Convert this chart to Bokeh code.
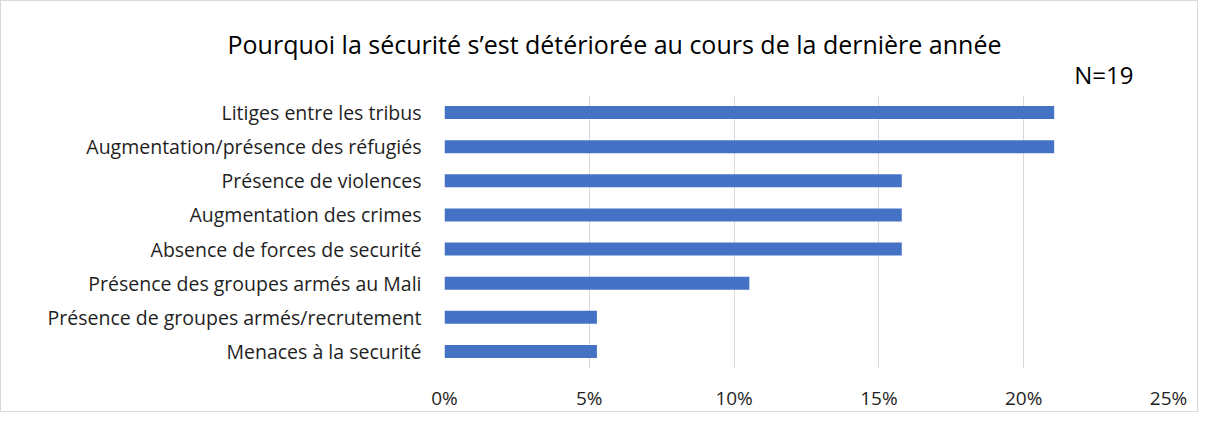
from bokeh.plotting import figure
from bokeh.models import FactorRange, Range1d, Title, FixedTicker, CustomJSTickFormatter
from bokeh.embed import file_html
from bokeh.resources import INLINE

categories = [
    "Litiges entre les tribus",
    "Augmentation/présence des réfugiés",
    "Présence de violences",
    "Augmentation des crimes",
    "Absence de forces de securité",
    "Présence des groupes armés au Mali",
    "Présence de groupes armés/recrutement",
    "Menaces à la securité",
]
values = [4 / 19, 4 / 19, 3 / 19, 3 / 19, 3 / 19, 2 / 19, 1 / 19, 1 / 19]
x_ticks = [0, 0.05, 0.10, 0.15, 0.20, 0.25]
title_text = "Pourquoi la sécurité s\u2019est détériorée au cours de la dernière année"
n_text = "N=19"

FONT = "Open Sans"
TXT = "#1f1f1f"

p = figure(
    width=1198, height=412,
    y_range=FactorRange(factors=list(reversed(categories)), range_padding=0),
    x_range=Range1d(0, 0.25),
    output_backend="svg", toolbar_location=None,
    min_border_left=443, min_border_right=31, min_border_top=94, min_border_bottom=42,
)
p.hbar(y=categories, right=values, height=0.38, left=0, color="#4472C4", line_color=None)

p.outline_line_color = None
p.background_fill_color = "white"
p.border_fill_color = "white"
p.styles = {"border": "1px solid #D9D9D9", "box-sizing": "border-box"}

p.xgrid.grid_line_color = "#D9D9D9"
p.xgrid.grid_line_width = 1
p.ygrid.grid_line_color = None

p.xaxis.ticker = FixedTicker(ticks=x_ticks)
p.xaxis.formatter = CustomJSTickFormatter(code="return Math.round(tick*100) + '%';")
p.xaxis.axis_line_color = None
p.xaxis.major_tick_line_color = None
p.xaxis.minor_tick_line_color = None
p.xaxis.major_label_text_font = FONT
p.xaxis.major_label_text_font_size = "19px"
p.xaxis.major_label_text_color = TXT
p.xaxis.major_label_standoff = 10

p.yaxis.axis_line_color = None
p.yaxis.major_tick_line_color = None
p.yaxis.minor_tick_line_color = None
p.yaxis.major_label_text_font = FONT
p.yaxis.major_label_text_font_size = "19.5px"
p.yaxis.major_label_text_color = TXT
p.yaxis.major_label_standoff = 17

ntitle = Title(text=n_text, align="right", offset=35, text_font=FONT,
               text_font_size="24px", text_color="#000000", text_font_style="normal",
               standoff=10)
p.add_layout(ntitle, "above")

p.title.text = title_text
p.title.align = "left"
p.title.offset = -217
p.title.text_font = FONT
p.title.text_font_size = "25px"
p.title.text_font_style = "normal"
p.title.text_color = "#000000"
p.title.standoff = -20

open("out.html", "w").write(file_html(p, INLINE))
